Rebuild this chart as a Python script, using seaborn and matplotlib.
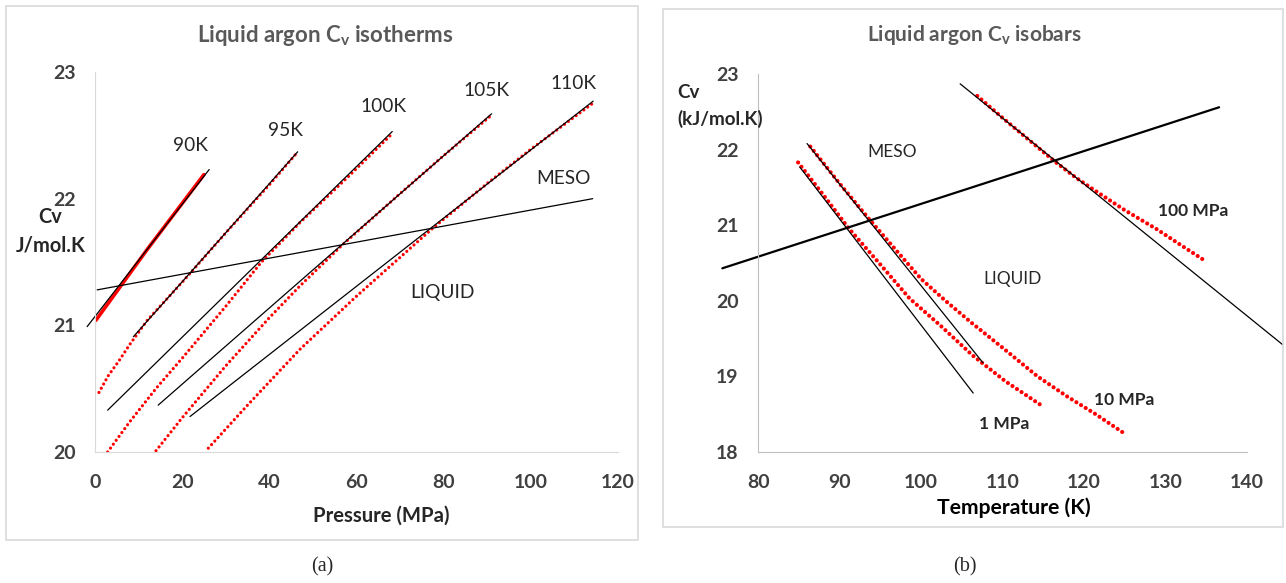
import matplotlib
matplotlib.use("Agg")
import matplotlib.pyplot as plt
from matplotlib.patches import Rectangle
import seaborn as sns

# ---- (a) isotherms: Cv vs pressure ----
p_90 = [0.2, 12, 25.0]
cv_90 = [21.04, 21.6, 22.19]
p_95 = [0.9, 3, 5.5, 8, 12, 20, 30, 40, 46.3]
cv_95 = [20.47, 20.60, 20.72, 20.85, 21.04, 21.34, 21.73, 22.11, 22.36]
p_100 = [2.9, 8, 14.2, 20, 30, 38.2, 47, 58, 68.1]
cv_100K = [20.0, 20.24, 20.51, 20.74, 21.15, 21.50, 21.81, 22.17, 22.51]
p_105 = [14.0, 20, 30, 40, 47, 56.6, 70, 80, 91.0]
cv_105 = [20.01, 20.27, 20.68, 21.06, 21.31, 21.63, 22.04, 22.34, 22.66]
p_110 = [26.0, 35, 47, 60, 77.6, 90, 100, 114.1]
cv_110 = [20.03, 20.37, 20.81, 21.23, 21.77, 22.12, 22.39, 22.75]

# fitted straight lines (end points)
fit_p = {"90K": [-1.8, 26.2], "95K": [8.8, 46.5], "100K": [2.9, 68.2],
         "105K": [14.5, 91.0], "110K": [21.8, 114.3]}
fit_cv = {"90K": [20.99, 22.23], "95K": [20.91, 22.37], "100K": [20.33, 22.53],
          "105K": [20.37, 22.67], "110K": [20.28, 22.77]}
meso_p = [0.5, 114.2]
meso_cv_a = [21.28, 22.00]

iso_labels = ["90K", "95K", "100K", "105K", "110K"]
iso_lab_p = [21.8, 43.6, 66.1, 89.9, 109.9]
iso_lab_cv = [22.42, 22.54, 22.73, 22.85, 22.91]

# ---- (b) isobars: Cv vs temperature ----
t_1 = [84.9, 88, 91.1, 95, 98.6, 102.3, 106.3, 110.3, 115.0]
cv_1MPa = [21.83, 21.40, 20.96, 20.48, 20.03, 19.68, 19.28, 18.94, 18.60]
t_10 = [86.4, 90, 93.7, 97, 100, 103, 106.3, 110, 114.3, 118, 121.3, 124.9]
cv_10MPa = [22.04, 21.55, 21.07, 20.66, 20.29, 20.0, 19.70, 19.38, 19.00, 18.73, 18.51, 18.25]
t_100 = [106.9, 110, 113, 116.45, 119, 121.6, 125, 128.9, 132, 135.0]
cv_100MPa = [22.71, 22.42, 22.15, 21.84, 21.63, 21.44, 21.20, 20.95, 20.73, 20.52]

fit_t = {"1": [85.1, 106.4], "10": [86.0, 107.6], "100": [104.8, 144.4]}
fit_cvb = {"1": [21.77, 18.78], "10": [22.08, 19.18], "100": [22.87, 19.42]}
meso_t = [75.6, 136.6]
meso_cv_b = [20.43, 22.56]

sns.set_style("white")
plt.rcParams["font.family"] = ["Lato", "DejaVu Sans"]

W, H = 1286, 583
fig = plt.figure(figsize=(W / 100, H / 100), dpi=100)

def px(x0, y0, x1, y1):
    return [x0 / W, 1 - y1 / H, (x1 - x0) / W, (y1 - y0) / H]

def dotted(ax, x, y, lw, gap):
    sns.lineplot(x=x, y=y, ax=ax, color="red", lw=lw, sort=False)
    ln = ax.lines[-1]
    ln.set_linestyle((0, (0.01, gap)))
    ln.set_dash_capstyle("round")

# outer frames of the two panels
fig.add_artist(Rectangle((6 / W, 1 - 540 / H), 632 / W, 534 / H, fill=False,
                         ec="#d9d9d9", lw=1.2, transform=fig.transFigure))
fig.add_artist(Rectangle((663 / W, 1 - 527 / H), 620 / W, 518 / H, fill=False,
                         ec="#d9d9d9", lw=1.2, transform=fig.transFigure))

tick_color = "#404040"

# ---------- panel (a) ----------
ax = fig.add_axes(px(95, 72, 618, 452))
sns.lineplot(x=p_90, y=cv_90, ax=ax, color="red", lw=2.6, sort=False)
for p, c in [(p_95, cv_95), (p_100, cv_100K), (p_105, cv_105), (p_110, cv_110)]:
    dotted(ax, p, c, 2.3, 1.5)
for k in iso_labels:
    sns.lineplot(x=fit_p[k], y=fit_cv[k], ax=ax, color="black", lw=0.9,
                 sort=False, clip_on=False)
sns.lineplot(x=meso_p, y=meso_cv_a, ax=ax, color="black", lw=0.9, sort=False)
for lab, x, y in zip(iso_labels, iso_lab_p, iso_lab_cv):
    ax.text(x, y, lab, fontsize=13.8, ha="center", va="center")
ax.text(107.4, 22.16, "MESO", fontsize=13.8, ha="center", va="center")
ax.text(79.8, 21.26, "LIQUID", fontsize=13.8, ha="center", va="center")

ax.set_xlim(0, 120)
ax.set_ylim(20, 23)
ax.set_xticks([0, 20, 40, 60, 80, 100, 120])
ax.set_yticks([20, 21, 22, 23])
ax.tick_params(length=0, labelsize=14, colors=tick_color)
ax.tick_params(axis="y", pad=14)
ax.tick_params(axis="x", pad=16)
for lab in ax.get_xticklabels() + ax.get_yticklabels():
    lab.set_fontweight("bold")
for s in ["top", "right"]:
    ax.spines[s].set_visible(False)
for s in ["left", "bottom"]:
    ax.spines[s].set_color("#d9d9d9")
ax.set_xlabel("")
ax.set_ylabel("")

fig.text(325 / W, 1 - 35 / H, "Liquid argon C$_\\mathregular{v}$ isotherms",
         fontsize=16, fontweight="bold", color="#595959", ha="center", va="center")
fig.text(381 / W, 1 - 516 / H, "Pressure (MPa)", fontsize=14.6, fontweight="bold",
         color="#262626", ha="center", va="center")
fig.text(50 / W, 1 - 217 / H, "Cv", fontsize=14.4, fontweight="bold", ha="center", va="center")
fig.text(51 / W, 1 - 245 / H, "J/mol.K", fontsize=14.4, fontweight="bold",
         ha="center", va="center")
fig.text(322 / W, 1 - 567 / H, "(a)", fontsize=14.5, family="Liberation Serif",
         ha="center", va="center")

# ---------- panel (b) ----------
bx = fig.add_axes(px(758.2, 74, 1246.8, 452))
for t, c in [(t_1, cv_1MPa), (t_10, cv_10MPa), (t_100, cv_100MPa)]:
    dotted(bx, t, c, 3.0, 1.3)
for k in ["1", "10", "100"]:
    sns.lineplot(x=fit_t[k], y=fit_cvb[k], ax=bx, color="black", lw=0.9,
                 sort=False, clip_on=False)
sns.lineplot(x=meso_t, y=meso_cv_b, ax=bx, color="black", lw=1.6, sort=False,
             clip_on=False)
bx.text(96.5, 21.97, "MESO", fontsize=12.5, ha="center", va="center")
bx.text(111.2, 20.29, "LIQUID", fontsize=12.5, ha="center", va="center")
bx.text(133.4, 21.19, "100 MPa", fontsize=12.5, fontweight="bold", ha="center", va="center")
bx.text(125.0, 18.69, "10 MPa", fontsize=12.5, fontweight="bold", ha="center", va="center")
bx.text(110.2, 18.37, "1 MPa", fontsize=12.5, fontweight="bold", ha="center", va="center")

bx.set_xlim(80, 140)
bx.set_ylim(18, 23)
bx.set_xticks(range(80, 141, 10))
bx.set_yticks(range(18, 24))
bx.tick_params(length=6, width=1, color="#bfbfbf", labelsize=14, labelcolor=tick_color)
bx.tick_params(axis="y", pad=8)
bx.tick_params(axis="x", pad=10)
for lab in bx.get_xticklabels() + bx.get_yticklabels():
    lab.set_fontweight("bold")
for s in ["top", "right"]:
    bx.spines[s].set_visible(False)
for s in ["left", "bottom"]:
    bx.spines[s].set_color("#bfbfbf")
bx.set_xlabel("")
bx.set_ylabel("")

fig.text(974 / W, 1 - 35 / H, "Liquid argon C$_\\mathregular{v}$ isobars",
         fontsize=15, fontweight="bold", color="#595959", ha="center", va="center")
fig.text(1014 / W, 1 - 508 / H, "Temperature (K)", fontsize=15.2, fontweight="bold",
         color="#000000", ha="center", va="center")
fig.text(677 / W, 1 - 92 / H, "Cv", fontsize=13.5, fontweight="bold", ha="left", va="center")
fig.text(677 / W, 1 - 119 / H, "(kJ/mol.K)", fontsize=13.5, fontweight="bold",
         ha="left", va="center")
fig.text(965 / W, 1 - 567 / H, "(b)", fontsize=14.5, family="Liberation Serif",
         ha="center", va="center")

fig.savefig("out.png", dpi=100)
